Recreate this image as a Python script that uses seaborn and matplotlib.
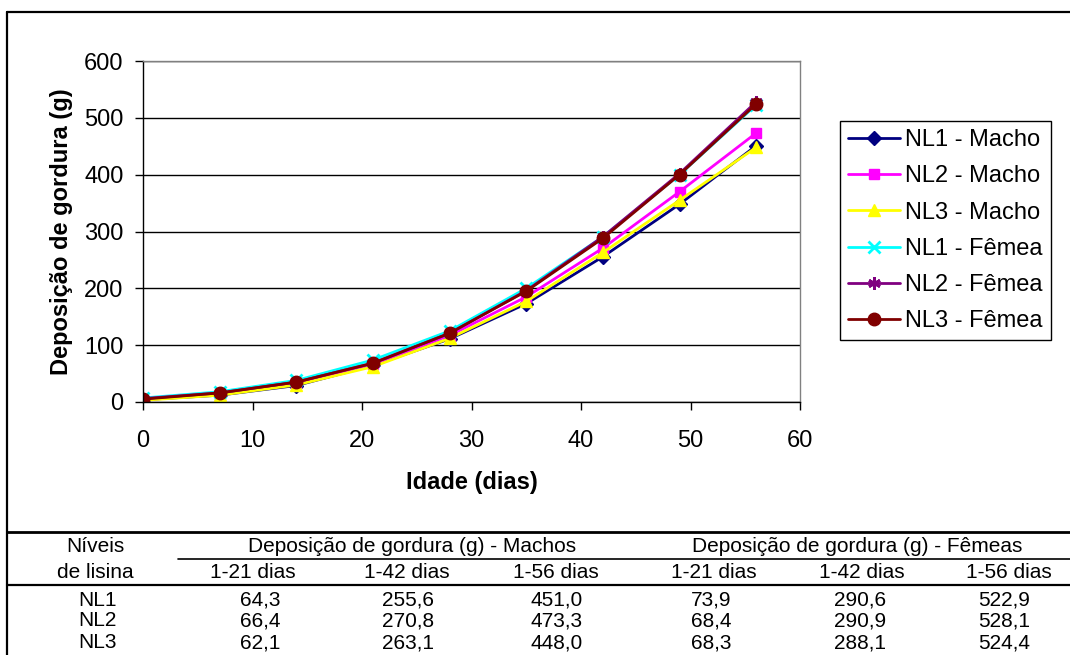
import numpy as np
import pandas as pd
import matplotlib
matplotlib.use("Agg")
import matplotlib.pyplot as plt
from matplotlib.lines import Line2D
import seaborn as sns

# Idade (dias) and cumulative fat deposition (g)
days = [0, 7, 14, 21, 28, 35, 42, 49, 56]
nl1_macho = [4, 12, 29, 64.3, 111, 173, 255.6, 348, 451.0]
nl2_macho = [4, 13, 33, 66.4, 117, 185, 270.8, 370, 473.3]
nl3_macho = [3, 12, 30, 62.1, 112, 177, 263.1, 355, 448.0]
nl1_femea = [7, 18, 38, 73.9, 125, 200, 290.6, 400, 522.9]
nl2_femea = [6, 16, 35, 68.4, 121, 196, 290.9, 402, 528.1]
nl3_femea = [5, 16, 35, 68.3, 121, 195, 288.1, 400, 524.4]

series_labels = ['NL1 - Macho', 'NL2 - Macho', 'NL3 - Macho',
                 'NL1 - Fêmea', 'NL2 - Fêmea', 'NL3 - Fêmea']
series_values = [nl1_macho, nl2_macho, nl3_macho, nl1_femea, nl2_femea, nl3_femea]
series_colors = ['#000080', '#FF00FF', '#FFFF00', '#00FFFF', '#800080', '#800000']
series_markers = ['D', 's', '^', 'x', (6, 2, 0), 'o']
series_msize = [7.5, 7.5, 9, 8, 9, 9]

# table below the chart
table_levels = ['NL1', 'NL2', 'NL3']
table_days = [21, 42, 56]
table_cols = ['1-21 dias', '1-42 dias', '1-56 dias']

sns.set_theme(style='white', rc={'text.color': 'black', 'axes.labelcolor': 'black',
                                 'xtick.color': 'black', 'ytick.color': 'black'})
plt.rcParams['font.family'] = ['Liberation Sans', 'DejaVu Sans']

fig = plt.figure(figsize=(10.7, 6.55), dpi=100)
W, H = 1070, 655


def fx(px):
    return px / W


def fy(py):
    return 1 - py / H


ax = fig.add_axes([fx(143), fy(402), fx(800) - fx(143), fy(61) - fy(402)])

df = pd.DataFrame({'dias': days})
for lab, vals in zip(series_labels, series_values):
    df[lab] = vals

for lab, col, mk, ms in zip(series_labels, series_colors, series_markers, series_msize):
    filled = mk not in ('x', (6, 2, 0))
    sns.lineplot(ax=ax, data=df, x='dias', y=lab, color=col, label=lab,
                 linewidth=2, marker=mk, markersize=ms,
                 markeredgecolor=col, markerfacecolor=col if filled else 'none',
                 markeredgewidth=1 if filled else 2)

ax.set_xlim(0, 60)
ax.set_ylim(0, 600)
ax.set_xticks(np.arange(0, 61, 10))
ax.set_yticks(np.arange(0, 601, 100))
ax.tick_params(axis='both', labelsize=17, direction='out', length=6, width=1,
               color='black', labelcolor='black', bottom=True, left=True)
ax.tick_params(axis='x', pad=14)
ax.tick_params(axis='y', pad=8)
ax.grid(axis='y', color='black', linewidth=1)
ax.grid(axis='x', visible=False)
for side in ['top', 'right']:
    ax.spines[side].set_color('#808080')
    ax.spines[side].set_linewidth(1)
for side in ['left', 'bottom']:
    ax.spines[side].set_color('black')
    ax.spines[side].set_linewidth(1)
ax.set_xlabel('Idade (dias)', fontsize=17, fontweight='bold', labelpad=14)
ax.set_ylabel('Deposição de gordura (g)', fontsize=17, fontweight='bold', labelpad=8)

ax.legend(loc='upper left', bbox_to_anchor=(fx(840), fy(121)), bbox_transform=fig.transFigure,
          borderaxespad=0, fontsize=17, frameon=True, fancybox=False, edgecolor='black',
          handlelength=2.2, handletextpad=0.2, labelspacing=0.6, borderpad=0.35,
          framealpha=1)

# outer chart border
fig.add_artist(Line2D([fx(7), fx(7)], [fy(12), fy(655)], color='black', linewidth=1.6))
fig.add_artist(Line2D([fx(7), fx(1070)], [fy(12), fy(12)], color='black', linewidth=1.6))

# table rules
fig.add_artist(Line2D([fx(7), fx(1070)], [fy(532), fy(532)], color='black', linewidth=2))
fig.add_artist(Line2D([fx(178), fx(1070)], [fy(559), fy(559)], color='black', linewidth=1.2))
fig.add_artist(Line2D([fx(7), fx(1070)], [fy(585), fy(585)], color='black', linewidth=1.6))

tfs = 15
fig.text(fx(95), fy(547), 'Níveis', ha='center', va='center', fontsize=tfs)
fig.text(fx(95), fy(572), 'de lisina', ha='center', va='center', fontsize=tfs)
fig.text(fx(412), fy(547), 'Deposição de gordura (g) - Machos', ha='center', va='center', fontsize=tfs)
fig.text(fx(857), fy(547), 'Deposição de gordura (g) - Fêmeas', ha='center', va='center', fontsize=tfs)

head_x = [253, 407, 556, 714, 862, 1009]
val_x = [260, 408, 557, 711, 860, 1004]
row_y = [600, 621, 643]
for j, hx in enumerate(head_x):
    fig.text(fx(hx), fy(572), table_cols[j % 3], ha='center', va='center', fontsize=tfs)

groups = [[nl1_macho, nl2_macho, nl3_macho], [nl1_femea, nl2_femea, nl3_femea]]
for i, lvl in enumerate(table_levels):
    fig.text(fx(97), fy(row_y[i]), lvl, ha='center', va='center', fontsize=tfs)
    for g, grp in enumerate(groups):
        for k, d in enumerate(table_days):
            v = grp[i][days.index(d)]
            txt = f'{v:.1f}'.replace('.', ',')
            fig.text(fx(val_x[g * 3 + k]), fy(row_y[i]), txt, ha='center', va='center', fontsize=tfs)

fig.savefig('out.png', dpi=100, facecolor='white')
